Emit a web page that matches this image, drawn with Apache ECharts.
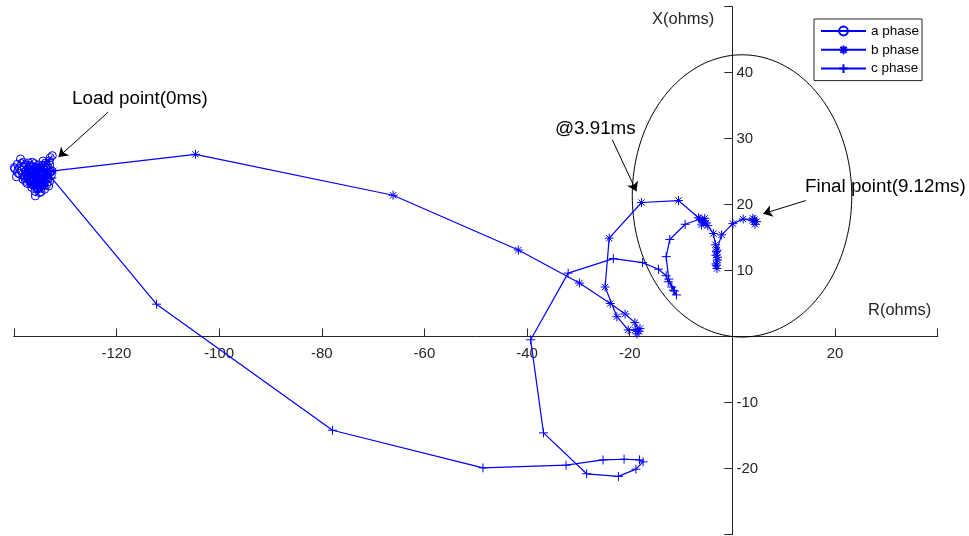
<!DOCTYPE html>
<html>
<head>
<meta charset="utf-8">
<script src="https://cdn.jsdelivr.net/npm/echarts@6/dist/echarts.min.js"></script>
<style>
  html, body { margin: 0; padding: 0; background: #fff; }
  #chart { width: 969px; height: 536px; }
</style>
</head>
<body>
<div id="chart"></div>
<script>
// Apparent impedance trajectories (R, X in ohms) for the three phases
const aPhase = [
  [-132.5,27.4],[-133.1,26.6],[-134.0,25.9],[-135.2,25.3],[-136.6,25.6],[-137.1,26.3],
  [-138.7,26.9],[-139.3,26.1],[-139.8,25.4],[-140.2,24.9],[-139.5,24.2],[-138.2,23.8],
  [-137.0,24.4],[-136.0,23.9],[-135.4,23.1],[-134.6,22.5],[-135.8,21.3],[-135.0,21.8],
  [-134.2,22.9],[-133.0,23.5],[-132.7,24.4],[-132.6,25.1],[-133.5,24.8],[-134.8,24.3],
  [-136.3,24.8],[-137.6,25.0],[-138.3,24.6],[-137.4,23.2],[-136.5,22.6],[-135.6,23.6],
  [-134.4,24.0],[-133.4,25.8],[-134.9,25.7],[-136.0,26.2],[-137.0,25.2],[-136.2,23.4],
  [-135.1,24.6],[-134.0,23.4],[-133.2,22.8],[-135.5,22.4],[-136.8,23.6],[-138.0,24.3],
  [-137.9,25.6],[-136.9,24.1],[-135.7,24.9],[-134.5,25.1],[-133.8,26.3],[-132.9,27.1],
  [-137.8,24.0],[-136.5,25.0],[-135.3,24.0],[-134.1,24.8],[-133.3,24.0],[-134.0,22.3],
  [-135.2,22.9],[-136.7,23.1],[-137.7,23.5],[-138.6,25.2],[-137.5,26.0],[-136.4,26.4],
  [-135.1,26.0],[-134.3,26.6],[-133.0,26.0],[-132.9,24.9],[-133.9,23.8],[-135.0,23.3],
  [-136.1,24.4],[-137.2,24.9],[-138.0,25.7],[-136.9,25.9],[-135.6,25.5],[-134.5,23.6],
  [-133.6,23.0],[-134.7,21.9],[-135.9,22.0],[-136.2,22.9],[-137.1,23.9],[-138.9,24.7],
  [-139.9,25.6],[-138.1,26.4],[-136.1,25.3],[-134.9,24.9],[-133.5,25.4],
  [-136.6,24.2],[-135.8,24.5],[-134.8,23.8],[-136.0,23.6],[-137.3,24.6],[-135.4,25.0],
  [-134.2,25.4],[-133.7,24.4],[-135.0,22.6],[-136.4,23.9]
];
const bPhase = [
  [-134.5,25.8],[-136.2,24.6],[-137.5,23.9],[-135.9,23.0],[-134.3,23.8],[-133.6,24.7],
  [-135.0,25.2],[-132.3,25.1],
  [-104.6,27.6],[-66.1,21.4],[-41.7,13.1],[-29.8,8.1],[-23.8,5.0],[-20.9,3.4],[-19.0,2.1],
  [-18.2,0.8],[-18.6,0.4],[-18.0,1.2],[-18.9,1.0],[-20.3,1.0],[-22.5,3.0],[-24.8,7.5],
  [-24.0,14.9],[-17.7,20.3],[-10.5,20.6],[-6.6,18.0],[-5.9,17.6],[-5.4,17.9],[-5.2,17.2],
  [-6.0,16.9],[-5.5,17.5],[-4.8,16.8],[-3.7,15.6],[-3.3,13.9],[-3.0,13.1],[-3.2,12.3],
  [-2.9,11.6],[-3.1,10.8],[-3.0,10.3],[-3.2,11.0],[-2.9,12.0],[-3.1,12.9],[-2.1,15.4],
  [0.1,17.1],[2.1,17.8],[3.9,17.6],[4.4,17.0],[4.0,17.9],[4.7,17.4],[4.3,17.7]
];
const cPhase = [
  [-135.5,24.9],[-137.0,24.0],[-136.1,22.8],[-134.6,23.2],[-133.5,24.3],[-134.8,24.6],
  [-132.6,24.0],
  [-112.2,4.9],[-77.9,-14.2],[-48.6,-19.9],[-32.4,-19.5],[-25.2,-18.7],[-21.1,-18.6],
  [-18.1,-18.7],[-17.4,-19.0],[-18.8,-20.1],[-22.2,-21.2],[-28.4,-20.8],[-36.8,-14.6],
  [-39.3,-0.5],[-32.0,9.6],[-23.2,11.8],[-17.5,11.2],[-14.4,10.2],[-12.9,9.2],[-12.5,8.3],
  [-11.8,7.5],[-11.5,7.0],[-10.9,6.3],[-11.3,6.9],[-12.4,8.7],[-12.9,12.1],[-12.2,14.7],
  [-9.2,17.0],[-6.3,17.8],[-5.8,17.4]
];

// Mho characteristic: circle through the origin, reach point at its far side
const mhoReach = [3.75, 42.6];

// Axis ranges and ticks
const xRange = [-140, 40], xStep = 20;
const yRange = [-30, 50], yStep = 10;
const xHiddenLabels = [-140, 0, 40];
const yHiddenLabels = [-30, 0, 50];

// Annotation arrows: [tail, head]
const loadArrow = [[-121.6, 34.0], [-131.3, 27.2]];
const faultArrow = [[-23.4, 29.8], [-18.7, 22.0]];
const finalArrow = [[14.3, 20.6], [6.0, 18.6]];

const FONT = '"Liberation Sans", Arial, Helvetica, sans-serif';
const BLUE = '#0000ff';
const AXIS = '#262626';
const GRID = { left: 13.8, top: 6.5, right: 31.3, bottom: 1.5 };

const asterisk = 'path://M0,-1L0,1M-1,0L1,0M-0.7,-0.7L0.7,0.7M-0.7,0.7L0.7,-0.7';
const plus = 'path://M0,-1L0,1M-1,0L1,0';

function phaseSeries(name, data, symbol, size) {
  return {
    name, type: 'line', data,
    symbol, symbolSize: size, showAllSymbol: true,
    lineStyle: { color: BLUE, width: 1.2 },
    itemStyle: { color: 'rgba(0,0,0,0)', borderColor: BLUE, borderWidth: 1 },
    emphasis: { disabled: true },
    z: 3
  };
}

function arrow(pair) {
  return [{ coord: pair[0] }, { coord: pair[1] }];
}

const chart = echarts.init(document.getElementById('chart'), null, { renderer: 'canvas' });

const center = [mhoReach[0] / 2, mhoReach[1] / 2];
const radius = Math.hypot(center[0], center[1]);

const aSeries = phaseSeries('a phase', aPhase, 'circle', 8);
aSeries.markLine = {
  silent: true,
  symbol: ['none', 'arrow'],
  symbolSize: 9,
  label: { show: false },
  lineStyle: { color: '#000', width: 1, type: 'solid' },
  emphasis: { disabled: true },
  data: [arrow(loadArrow), arrow(faultArrow), arrow(finalArrow)]
};

const annFont = '18.8px ' + FONT;
const nameFont = '16.5px ' + FONT;

chart.setOption({
  animation: false,
  backgroundColor: '#fff',
  grid: Object.assign({ containLabel: false, outerBoundsMode: 'none' }, GRID),
  xAxis: {
    type: 'value', min: xRange[0], max: xRange[1], interval: xStep,
    axisLine: { onZero: false, lineStyle: { color: AXIS, width: 1 } },
    axisTick: { inside: true, length: 8, lineStyle: { color: AXIS } },
    axisLabel: {
      color: AXIS, fontSize: 15, fontFamily: FONT, margin: 10,
      formatter: v => xHiddenLabels.includes(v) ? '' : String(v)
    },
    splitLine: { show: false }
  },
  yAxis: {
    type: 'value', position: 'right', min: yRange[0], max: yRange[1], interval: yStep,
    axisLine: { onZero: false, lineStyle: { color: AXIS, width: 1 } },
    axisTick: { inside: true, length: 8, lineStyle: { color: AXIS } },
    axisLabel: {
      color: AXIS, fontSize: 15, fontFamily: FONT, margin: 4,
      formatter: v => yHiddenLabels.includes(v) ? '' : String(v)
    },
    splitLine: { show: false }
  },
  legend: {
    data: ['a phase', 'b phase', 'c phase'],
    orient: 'vertical', left: 814, top: 19,
    padding: [5, 3, 5, 6], itemGap: 4.8,
    itemWidth: 45, itemHeight: 11,
    backgroundColor: '#fff', borderColor: AXIS, borderWidth: 1,
    textStyle: { color: '#000', fontSize: 13.5, lineHeight: 14, fontFamily: FONT },
    selectedMode: false
  },
  series: [
    {
      name: 'mho', type: 'custom', silent: true, z: 1,
      data: [[center[0], center[1]]],
      renderItem: (params, api) => {
        const pts = [];
        for (let i = 0; i <= 360; i += 2) {
          const t = i * Math.PI / 180;
          pts.push(api.coord([center[0] + radius * Math.cos(t), center[1] + radius * Math.sin(t)]));
        }
        return {
          type: 'polyline',
          shape: { points: pts },
          style: { stroke: '#000', fill: null, lineWidth: 1 }
        };
      }
    },
    aSeries,
    phaseSeries('b phase', bPhase, asterisk, 9),
    phaseSeries('c phase', cPhase, plus, 9)
  ],
  graphic: [
    { type: 'text', left: 72, top: 89, style: { text: 'Load point(0ms)', font: annFont, fill: '#000' } },
    { type: 'text', left: 555, top: 119, style: { text: '@3.91ms', font: annFont, fill: '#000' } },
    { type: 'text', left: 805, top: 177, style: { text: 'Final point(9.12ms)', font: annFont, fill: '#000' } },
    { type: 'text', left: 652, top: 11, style: { text: 'X(ohms)', font: nameFont, fill: AXIS } },
    { type: 'text', left: 868, top: 302, style: { text: 'R(ohms)', font: nameFont, fill: AXIS } }
  ]
});

// Move both axes onto the origin: shift them in from the grid edges
const origin = chart.convertToPixel({ gridIndex: 0 }, [0, 0]);
const gridBottom = chart.getHeight() - GRID.bottom;
const gridRight = chart.getWidth() - GRID.right;
chart.setOption({
  xAxis: { offset: -(gridBottom - origin[1]) },
  yAxis: { offset: -(gridRight - origin[0]) }
});
</script>
</body>
</html>
